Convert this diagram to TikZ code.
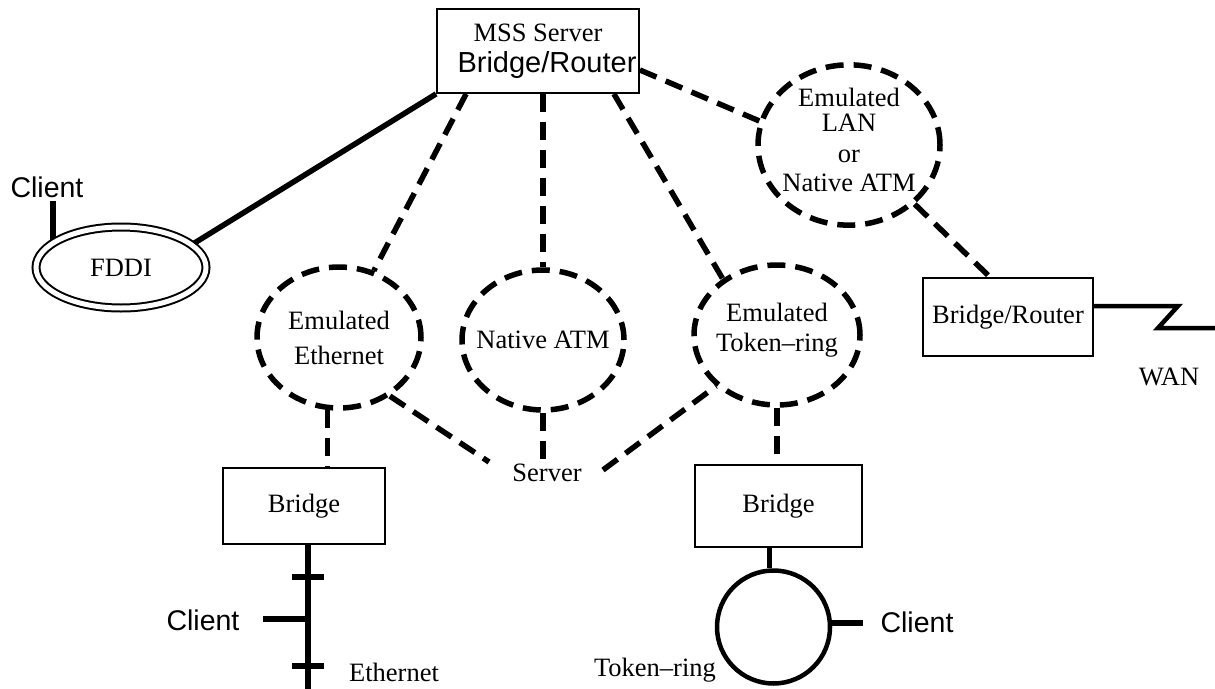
\documentclass[tikz,border=0pt]{standalone}
\usepackage{fontspec}
\setmainfont{Liberation Serif}
\newfontfamily\helv{Liberation Sans}
\usetikzlibrary{shapes.geometric,backgrounds,calc}

\begin{document}
\begin{tikzpicture}[x=1pt,y=-1pt,
  tm/.style={font=\fontsize{26.5}{30}\selectfont},
  sa/.style={font=\helv\fontsize{28.5}{32}\selectfont},
  box/.style={draw,line width=1.8pt,inner sep=0pt,tm},
  cloud/.style={ellipse,draw,line width=5.5pt,dash pattern=on 18pt off 10pt,
    fill=white,inner ysep=0pt,inner xsep=-12pt,align=center,tm},
  link/.style={line width=5.5pt,dash pattern=on 18pt off 10pt},
  wire/.style={line width=5.5pt}]
\useasboundingbox (0,0) rectangle (1215,688);

% central server and attached networks
\node[box,minimum width=202,minimum height=84,align=center] (srv) at (538,51)
  {MSS Server\\[1pt]{\helv\fontsize{29}{32}\selectfont\hspace*{18pt}Bridge/Router}};
\node[ellipse,draw,line width=2pt,double,double distance=5pt,fill=white,
  minimum width=170,minimum height=81,inner sep=0pt,tm] (fddi) at (121,267.5) {FDDI};
\node[cloud,minimum width=164,minimum height=141] (eth) at (339,337.5) {Emulated\\[5pt]Ethernet};
\node[cloud,minimum width=162,minimum height=140] (atm) at (543,340) {Native ATM};
\node[cloud,minimum width=166,minimum height=140,text depth=16pt] (tok) at (777,335) {Emulated\\Token–ring};
\node[cloud,minimum width=182,minimum height=160,text depth=10pt] (lan) at (849,145)
  {Emulated\\[-5pt]LAN\\[1pt]or\\[-1pt]Native ATM};
\node[box,minimum width=170,minimum height=78] (brt) at (1008,317) {Bridge/Router};
\node[box,minimum width=162,minimum height=76] (br1) at (304,506) {Bridge};
\node[box,minimum width=167,minimum height=82] (br2) at (778.5,506) {Bridge};
\node[circle,draw,line width=4.5pt,minimum size=113,inner sep=0pt] (ring) at (773.5,627) {};

% labels
\node[tm] (srvr) at (547,473) {Server};
\node[tm] (wan) at (1169,377) {WAN};
\node[tm] (ethl) at (394,672) {Ethernet};
\node[tm] (tokl) at (655,670) {Token–ring};
\node[sa] (c1) at (47,187) {Client};
\node[sa] (c2) at (203,620) {Client};
\node[sa] (c3) at (917,622) {Client};

% free ends
\coordinate (c1s) at (53,201);
\coordinate (sL) at (489,462);
\coordinate (sB) at (543,460);
\coordinate (sR) at (603,470);
\coordinate (ebot) at (308,690);
\coordinate (t1) at (308,577);
\coordinate (t2) at (308,666);
\coordinate (c2s) at (263,619);
\coordinate (c3s) at (863,623);
\coordinate (w1) at (1178,306);
\coordinate (w2) at (1158,328);
\coordinate (w3) at (1216,328);
\coordinate (rtop) at ($(ring.north)+(-4,0)$);

% FDDI attachments run under the ring
\begin{pgfonlayer}{background}
  \draw[wire] (srv.south west) -- (fddi.18);
  \draw[wire] (c1s) -- (c1s |- fddi.center);
\end{pgfonlayer}

% emulated LAN links
\draw[link] ([xshift=30pt]srv.south west) -- (eth);
\draw[link] (srv.south -| atm) -- (atm);
\draw[link] ([xshift=-26pt]srv.south east) -- (tok.134.5);
\draw[link] ($(srv.east)+(0,19)$) -- (lan.165.6);
\draw[link] (lan.-42) -- ([xshift=-18pt]brt.north);
\draw[link] (eth.261) -- (eth.261 |- br1.north);
\draw[link] (eth.-49) -- (sL);
\draw[link] (atm) -- (sB);
\draw[link] (sR) -- (tok.220);
\draw[link] (tok.south) -- (tok.south |- br2.north);

% Ethernet segment
\draw[wire] (br1.south -| ebot) -- (ebot);
\draw[wire] ([xshift=-16pt]t1) -- ([xshift=16pt]t1);
\draw[wire] ([xshift=-16pt]t2) -- ([xshift=16pt]t2);
\draw[wire] (c2s) -- (c2s -| ebot);

% Token-ring
\draw[wire] (br2.south -| rtop) -- (rtop);
\draw[wire] (c3s -| ring.east) -- (c3s);

% WAN line
\draw[line width=4.5pt,line join=miter] ([yshift=11pt]brt.east) -- (w1) -- (w2) -- (w3);
\end{tikzpicture}
\end{document}
